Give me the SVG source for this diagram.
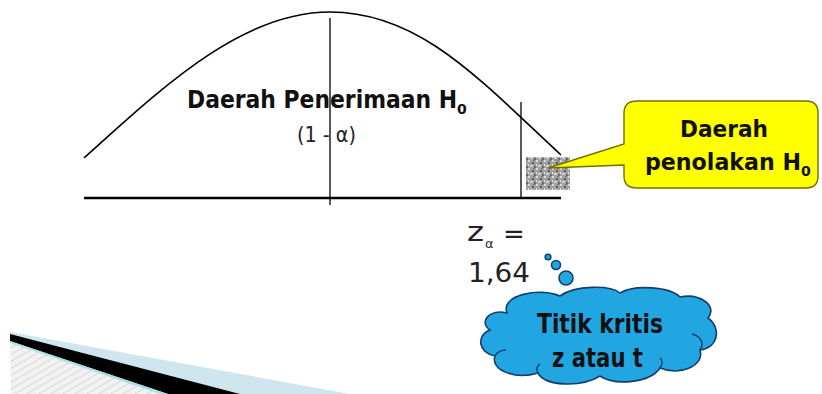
<svg xmlns="http://www.w3.org/2000/svg" width="822" height="394" viewBox="0 0 822 394">
<style>
.ln{stroke:#000;fill:none}
.bold{font-family:"DejaVu Sans","Liberation Sans",sans-serif;font-weight:bold;fill:#111}
.reg{font-family:"DejaVu Sans","Liberation Sans",sans-serif;fill:#222}
.cl{fill:#22a6e2;stroke:#123f6e;stroke-width:1.6}
</style>
<defs>
<pattern id="hatch" width="6" height="6" patternUnits="userSpaceOnUse" patternTransform="rotate(60)">
<rect width="6" height="6" fill="#f2f2f2"/>
<line x1="0" y1="0" x2="0" y2="6" stroke="#d8d8d8" stroke-width="2"/>
</pattern>
<pattern id="noise" width="8" height="8" patternUnits="userSpaceOnUse">
<rect width="8" height="8" fill="#a0a0a0"/>
<rect x="0" y="0" width="2" height="2" fill="#d8d8d8"/>
<rect x="4" y="2" width="2" height="2" fill="#5a5a5a"/>
<rect x="2" y="5" width="3" height="2" fill="#d0d0d0"/>
<rect x="6" y="6" width="2" height="2" fill="#6a6a6a"/>
<rect x="5" y="0" width="2" height="1" fill="#7a7a7a"/>
<rect x="0" y="4" width="1" height="2" fill="#e6e6e6"/>
</pattern>
</defs>
<rect width="822" height="394" fill="#fff"/>

<g id="swoosh">
<polygon points="10,338 11,394 200,394" fill="url(#hatch)"/>
<polygon points="10,332 350,394 240,394 10,336" fill="#cfe6ee"/>
<polygon points="10,334 240,394 168,394 10,341" fill="#000"/>
<polygon points="10,341 168,394 160,394 10,343" fill="#a8e0e6"/>
</g>

<g id="curve">
<path class="ln" stroke-width="1.6" d="M84,158 C160,90 240,12 330,12 C420,12 480,80 561,155"/>
<line class="ln" x1="84" y1="198" x2="561" y2="198" stroke-width="2.4"/>
<line class="ln" x1="330" y1="18" x2="330" y2="205" stroke-width="1.3"/>
<line class="ln" x1="521" y1="102" x2="521" y2="198" stroke-width="1.3"/>
<rect x="526" y="157" width="44" height="33" fill="url(#noise)"/>
</g>

<g id="accept-label">
<text class="bold" x="187" y="108" font-size="24"><tspan textLength="270" lengthAdjust="spacingAndGlyphs">Daerah Penerimaan H</tspan><tspan font-size="14" dy="6">0</tspan></text>
<text class="reg" x="297" y="142" font-size="21" textLength="59" lengthAdjust="spacingAndGlyphs">(1 - α)</text>
</g>

<g id="reject-callout">
<path d="M637,101 H806 Q818,101 818,113 V176 Q818,188 806,188 H637 Q624,188 624,176 V165 L548,168 L624,144 V113 Q624,101 637,101 Z" fill="#ffff00" stroke="#707000" stroke-width="1.4"/>
<text class="bold" x="680" y="137" font-size="23" textLength="88" lengthAdjust="spacingAndGlyphs">Daerah</text>
<text class="bold" x="645" y="170" font-size="23"><tspan textLength="156" lengthAdjust="spacingAndGlyphs">penolakan H</tspan><tspan font-size="14" dy="6">0</tspan></text>
</g>

<g id="z-value">
<text class="reg" x="467" y="241" font-size="26" textLength="17" lengthAdjust="spacingAndGlyphs">z</text>
<text class="reg" x="485" y="248" font-size="13">α</text>
<text class="reg" x="503" y="243" font-size="26">=</text>
<text class="reg" x="468" y="282" font-size="27" textLength="62" lengthAdjust="spacingAndGlyphs">1,64</text>
</g>

<g id="cloud">
<circle class="cl" cx="548" cy="257" r="2.8"/>
<circle class="cl" cx="556" cy="265" r="4.5"/>
<circle class="cl" cx="566" cy="278" r="7"/>
<path class="cl" stroke-width="2" d="M507,313 C500,295 540,287 560,296 C575,285 610,285 620,293 C635,284 670,287 680,297 C700,293 718,306 708,318 C722,328 718,348 700,350 C705,366 680,376 660,368 C650,383 615,386 600,376 C580,388 545,386 538,373 C515,380 490,370 495,356 C478,353 476,335 490,330 C478,322 490,308 507,313 Z"/>
<path fill="none" stroke="#123f6e" stroke-width="1.5" d="M700,350 C705,343 700,336 692,334 M660,368 C663,364 662,360 660,358 M538,373 C536,369 537,366 540,364 M495,356 C497,352 502,350 506,350"/>
<text class="bold" x="537" y="333" font-size="26" textLength="126" lengthAdjust="spacingAndGlyphs" fill="#0b1e3c">Titik kritis</text>
<text class="bold" x="552" y="367" font-size="26" textLength="91" lengthAdjust="spacingAndGlyphs" fill="#0b1e3c">z atau t</text>
</g>
</svg>
